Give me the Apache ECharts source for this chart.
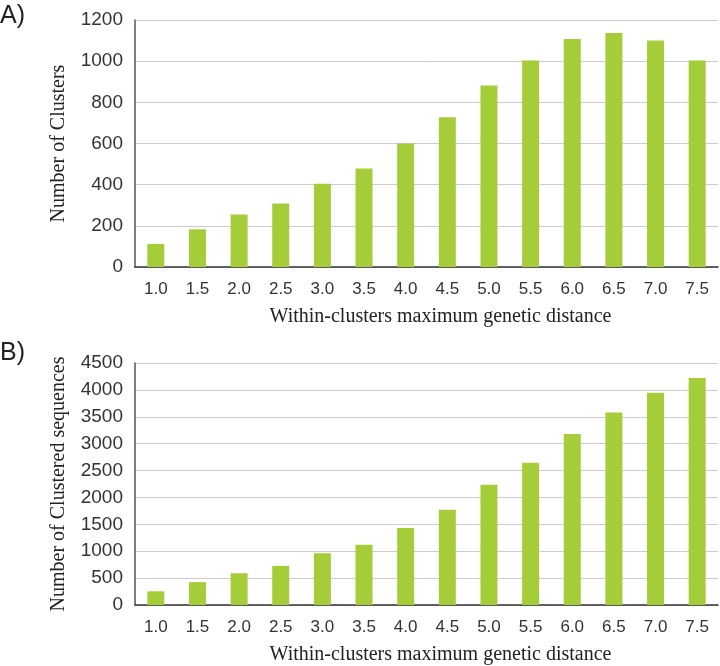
<!DOCTYPE html>
<html>
<head>
<meta charset="utf-8">
<script src="https://cdn.jsdelivr.net/npm/echarts@6/dist/echarts.min.js"></script>
<style>
  html, body { margin: 0; padding: 0; background: #fff; }
  #c_chart { width: 720px; height: 666px; }
</style>
</head>
<body>
<div id="c_chart"></div>
<script>
// data
const distances = ['1.0', '1.5', '2.0', '2.5', '3.0', '3.5', '4.0', '4.5', '5.0', '5.5', '6.0', '6.5', '7.0', '7.5']
const clusters = [112, 183, 255, 308, 405, 478, 600, 728, 882, 1003, 1108, 1137, 1100, 1003]
const clusteredSeqs = [255, 425, 590, 728, 962, 1120, 1430, 1770, 2235, 2645, 3180, 3580, 3945, 4220]

const barColor = '#a5cd39'
const sans = 'Liberation Sans, Arial, sans-serif'
const nameFont = { color: '#222', fontSize: 20, fontFamily: 'Liberation Serif, Times New Roman, serif' }

function xAxisFor (gridIndex) {
  return {
    type: 'category',
    gridIndex: gridIndex,
    data: distances,
    name: 'Within-clusters maximum genetic distance',
    nameLocation: 'middle',
    nameGap: 40,
    nameTextStyle: Object.assign({ padding: [0, 0, 0, 28] }, nameFont),
    axisLine: { lineStyle: { color: '#333', width: 1.5 } },
    axisTick: { show: false },
    axisLabel: { margin: 14, color: '#333', fontSize: 17, fontFamily: sans }
  }
}

function yAxisFor (gridIndex, name, max, interval, gap) {
  return {
    type: 'value',
    gridIndex: gridIndex,
    min: 0,
    max: max,
    interval: interval,
    name: name,
    nameLocation: 'middle',
    nameGap: gap,
    nameTextStyle: nameFont,
    axisLine: { show: true, lineStyle: { color: '#555', width: 1.5 } },
    axisTick: { show: false },
    axisLabel: { margin: 12, color: '#333', fontSize: 19, fontFamily: sans, formatter: v => String(v) },
    splitLine: { lineStyle: { color: '#ccc', width: 1 } }
  }
}

const chart = echarts.init(document.getElementById('c_chart'))
const option = {
  animation: false,
  grid: [
    { left: 135, top: 20, width: 583, height: 247 },
    { left: 135, top: 363, width: 583, height: 248 }
  ],
  graphic: [
    { type: 'text', left: 0, top: 4, style: { text: 'A)', fontSize: 25, fill: '#222', fontFamily: sans } },
    { type: 'text', left: 0, top: 341, style: { text: 'B)', fontSize: 25, fill: '#222', fontFamily: sans } }
  ],
  xAxis: [xAxisFor(0), xAxisFor(1)],
  yAxis: [
    yAxisFor(0, 'Number of Clusters', 1200, 200, 66),
    yAxisFor(1, 'Number of Clustered sequences', 4500, 500, 66)
  ],
  series: [
    {
      type: 'bar',
      xAxisIndex: 0,
      yAxisIndex: 0,
      data: clusters,
      barWidth: 17,
      itemStyle: { color: barColor }
    },
    {
      type: 'bar',
      xAxisIndex: 1,
      yAxisIndex: 1,
      data: clusteredSeqs,
      barWidth: 17,
      itemStyle: { color: barColor }
    }
  ]
}
chart.setOption(option, true)
</script>
</body>
</html>
